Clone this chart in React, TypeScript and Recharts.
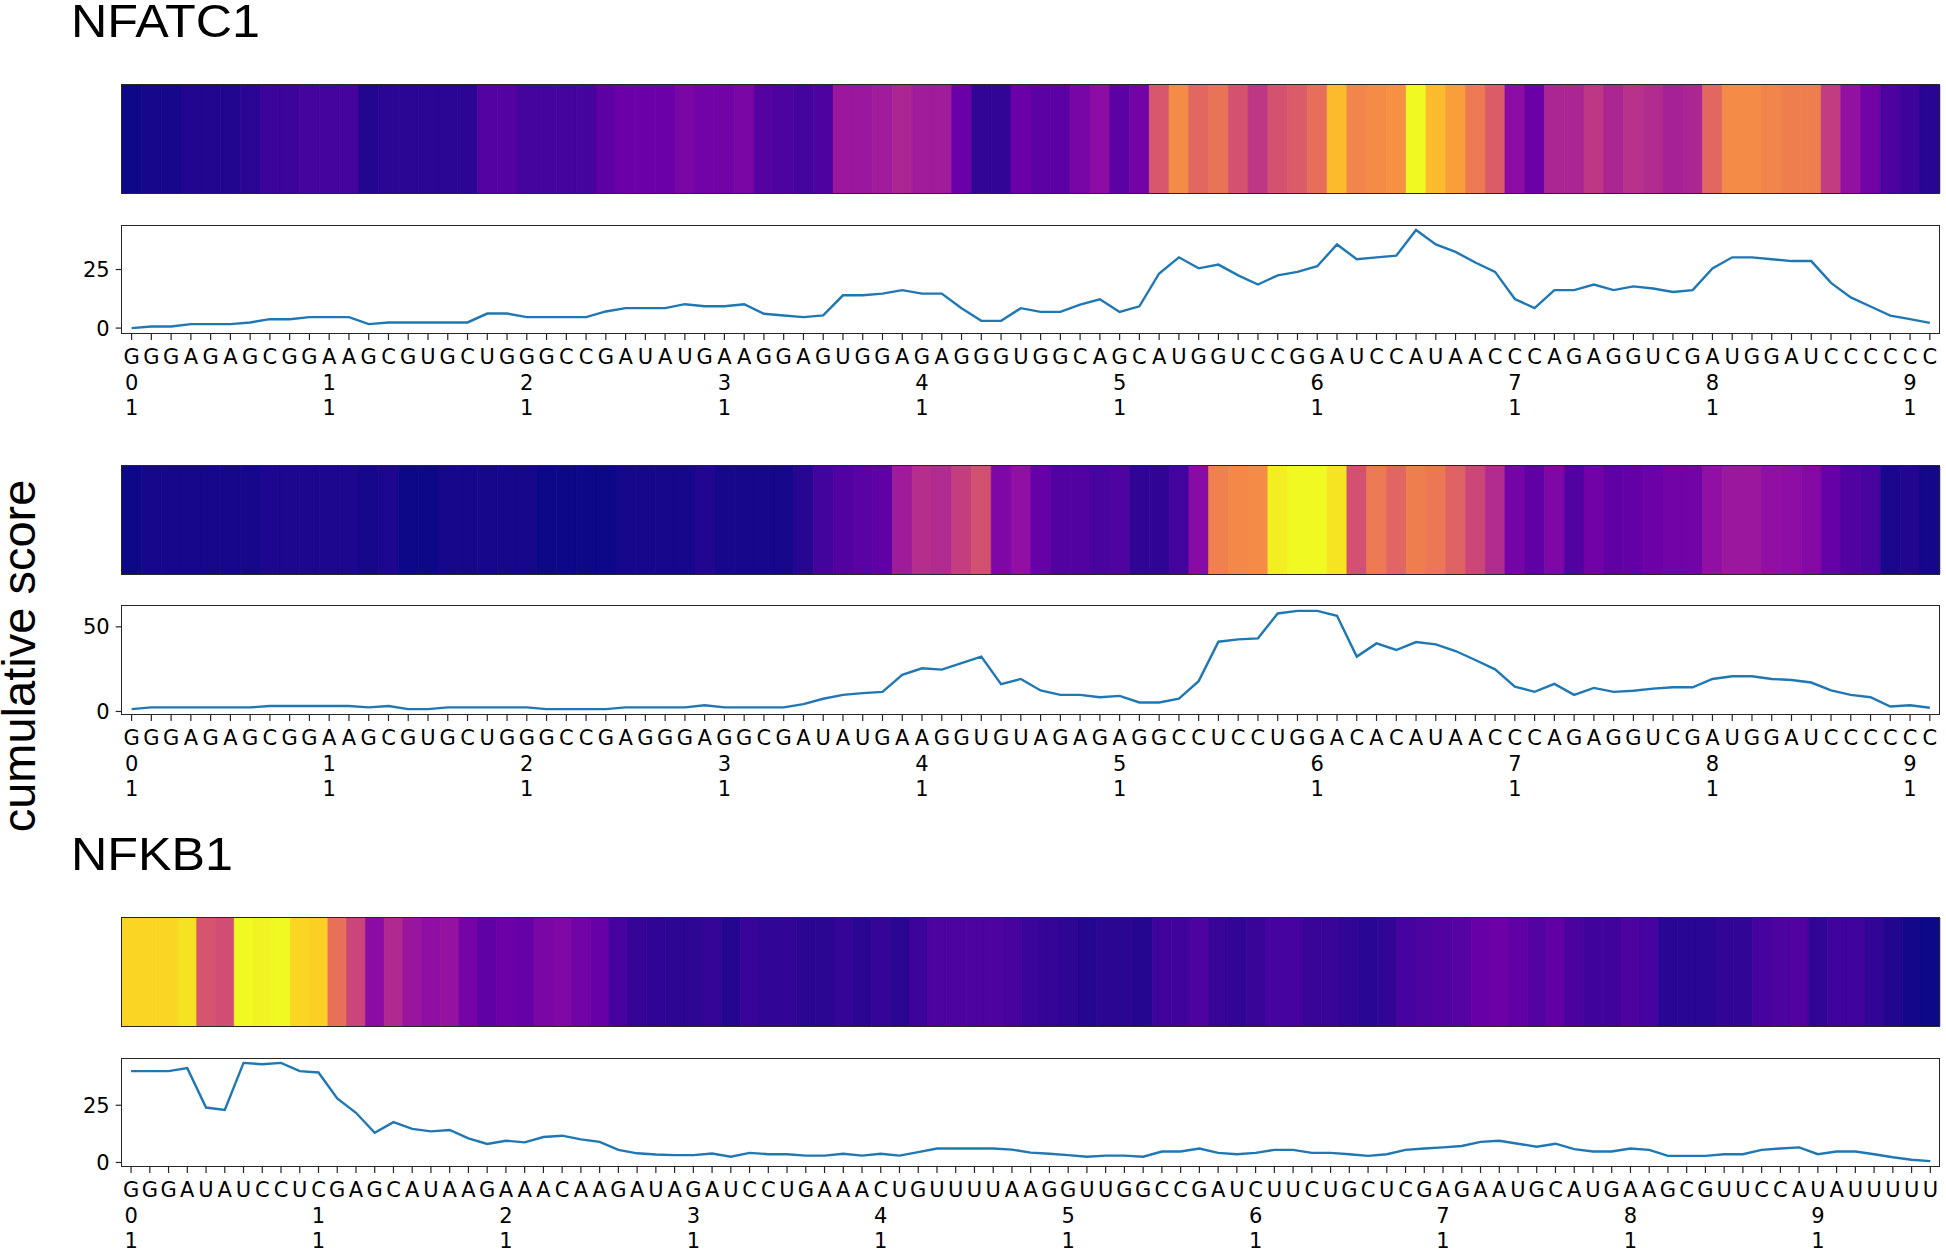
import React from 'react';
import { BarChart, Bar, Cell, LineChart, Line, XAxis, YAxis } from 'recharts';

// sequences (tick labels), one letter per position
const seqNfatc1A =
  'GGGAGAGCGG' + 'AAGCGUGCUG' + 'GGCCGAUAUG' + 'AAGGAGUGGA' + 'GAGGGUGGCA' +
  'GCAUGGUCCG' + 'GAUCCAUAAC' + 'CCAGAGGUCG' + 'AUGGAUCCCC' + 'CC';
const seqNfatc1B =
  'GGGAGAGCGG' + 'AAGCGUGCUG' + 'GGCCGAGGGA' + 'GGCGAUAUGA' + 'AGGUGUAGAG' +
  'AGGCCUCCUG' + 'GACACAUAAC' + 'CCAGAGGUCG' + 'AUGGAUCCCC' + 'CC';
const seqNfkb1 =
  'GGGAUAUCCU' + 'CGAGCAUAAG' + 'AAACAAGAUA' + 'GAUCCUGAAA' + 'CUGUUUUAAG' +
  'GUUGGCCGAU' + 'CUUCUGCUCG' + 'AGAAUGCAUG' + 'AAGCGUUCCA' + 'UAUUUUU';

// cumulative scores
const scoreNfatc1A = [
  0, 0.7, 0.7, 1.7, 1.7, 1.7, 2.4, 3.8, 3.8, 4.7,
  4.7, 4.7, 1.7, 2.4, 2.4, 2.4, 2.4, 2.4, 6.2, 6.2,
  4.7, 4.7, 4.7, 4.7, 7.1, 8.5, 8.5, 8.5, 10.2, 9.3,
  9.3, 10.2, 6.1, 5.4, 4.7, 5.4, 14.0, 14.0, 14.7, 16.2,
  14.7, 14.7, 8.5, 3.1, 3.1, 8.5, 6.9, 6.9, 10.0, 12.3,
  6.9, 9.3, 23.3, 30.2, 25.5, 27.1, 22.5, 18.6, 22.5, 24.0,
  26.4, 35.7, 29.4, 30.2, 30.9, 41.9, 35.7, 32.5, 28.0, 24.0,
  12.4, 8.5, 16.2, 16.2, 18.6, 16.2, 17.8, 16.9, 15.4, 16.2,
  25.5, 30.2, 30.2, 29.4, 28.6, 28.6, 19.3, 13.1, 9.2, 5.3,
  3.8, 2.2,
];
const scoreNfatc1B = [
  1.4, 2.4, 2.4, 2.4, 2.4, 2.4, 2.4, 3.2, 3.2, 3.2,
  3.2, 3.2, 2.4, 3.2, 1.4, 1.4, 2.4, 2.4, 2.4, 2.4,
  2.4, 1.4, 1.4, 1.4, 1.4, 2.4, 2.4, 2.4, 2.4, 3.7,
  2.4, 2.4, 2.4, 2.4, 4.3, 7.5, 9.8, 10.8, 11.6, 21.6,
  25.5, 24.7, 28.6, 32.4, 16.1, 19.2, 12.4, 9.8, 9.8, 8.4,
  9.2, 5.3, 5.3, 7.6, 17.9, 41.2, 42.6, 43.2, 57.9, 59.4,
  59.4, 56.5, 32.4, 40.2, 36.3, 41.0, 39.6, 35.7, 30.4, 24.9,
  14.7, 11.6, 16.3, 9.8, 13.9, 11.6, 12.2, 13.5, 14.3, 14.3,
  19.2, 20.8, 20.8, 19.2, 18.6, 17.1, 12.4, 9.8, 8.4, 2.9,
  3.7, 2.2,
];
const scoreNfkb1 = [
  39.9, 39.9, 39.9, 41.2, 24.0, 23.0, 43.5, 42.9, 43.5, 39.9,
  39.3, 28.0, 21.7, 13.0, 17.6, 14.7, 13.6, 14.2, 10.5, 8.1,
  9.5, 8.8, 11.1, 11.7, 10.1, 9.0, 5.5, 4.0, 3.5, 3.2,
  3.2, 3.9, 2.5, 4.2, 3.6, 3.6, 3.0, 3.0, 3.8, 3.0,
  3.8, 3.0, 4.5, 6.1, 6.1, 6.1, 6.1, 5.6, 4.3, 3.8,
  3.2, 2.5, 3.0, 3.0, 2.5, 4.8, 4.8, 6.1, 4.2, 3.6,
  4.2, 5.5, 5.5, 4.2, 4.2, 3.6, 2.9, 3.6, 5.5, 6.1,
  6.6, 7.2, 9.0, 9.5, 8.2, 6.9, 8.2, 5.8, 4.8, 4.8,
  6.1, 5.5, 2.9, 2.9, 2.9, 3.6, 3.6, 5.5, 6.1, 6.6,
  3.6, 4.8, 4.8, 3.6, 2.3, 1.2, 0.6,
];

const yTicksNfatc1A = [0, 25];
const yTicksNfatc1B = [0, 50];
const yTicksNfkb1 = [0, 25];

const titles = ['NFATC1', 'NFKB1'];
const yLabel = 'cumulative score';

const CHART_W = 1946;
const PLOT_LEFT = 121.7;
const PLOT_W = 1818;
const RIGHT = CHART_W - PLOT_LEFT - PLOT_W;
const HEAT_H = 108.3;
const LINE_H = 108;
const TICK_FONT = '"DejaVu Sans", sans-serif';
const LABEL_FONT = '"Liberation Sans", Arial, sans-serif';

// matplotlib plasma, sampled every 0.1
const plasmaStops = [
  '#0d0887', '#41049d', '#6a00a8', '#8f0da4', '#b12a90', '#cc4778',
  '#e16462', '#f2844b', '#fca636', '#fcce25', '#f0f921',
];
const hex = (h: string) => [1, 3, 5].map((k) => parseInt(h.slice(k, k + 2), 16));
const plasma = (t: number) => {
  const v = Math.max(0, Math.min(1, t)) * 10;
  const i = Math.min(9, Math.floor(v));
  const f = v - i;
  const a = hex(plasmaStops[i]);
  const b = hex(plasmaStops[i + 1]);
  const c = a.map((x, k) => Math.round(x + (b[k] - x) * f));
  return `rgb(${c[0]},${c[1]},${c[2]})`;
};

const Frame = ({ top, height }: { top: number; height: number }) => (
  <div
    style={{
      position: 'absolute',
      left: PLOT_LEFT - 0.7,
      top: top - 0.7,
      width: PLOT_W + 1.4,
      height: height + 1.4,
      border: '1.4px solid #262626',
      boxSizing: 'border-box',
      pointerEvents: 'none',
    }}
  />
);

const SeqTick = (props: any) => {
  const { x, y, payload, seq } = props;
  const i = payload.value as number;
  const num = i % 10 === 1 ? String(i).padStart(2, '0') : null;
  const common = { x, textAnchor: 'middle' as const, fontFamily: TICK_FONT, fontSize: 21, fill: '#000' };
  return (
    <g>
      <text {...common} y={y + 24}>{seq[i - 1]}</text>
      {num && <text {...common} y={y + 49.7}>{num[0]}</text>}
      {num && <text {...common} y={y + 75.4}>{num[1]}</text>}
    </g>
  );
};

type PanelProps = {
  seq: string;
  scores: number[];
  yTicks: number[];
  heatTop: number;
  lineTop: number;
};

const Panel = ({ seq, scores, yTicks, heatTop, lineTop }: PanelProps) => {
  const n = scores.length;
  const lo = Math.min(...scores);
  const hi = Math.max(...scores);
  const pad = (hi - lo) * 0.05;
  const rows = scores.map((s, i) => ({ pos: i + 1, score: s, one: 1 }));
  const positions = rows.map((r) => r.pos);

  return (
    <>
      <div style={{ position: 'absolute', left: 0, top: heatTop }}>
        <BarChart
          width={CHART_W}
          height={HEAT_H + 12}
          data={rows}
          margin={{ top: 0, right: RIGHT, bottom: 0, left: PLOT_LEFT }}
          barCategoryGap={0}
          barGap={0}
        >
          <XAxis
            dataKey="pos"
            type="category"
            interval={0}
            tick={false}
            tickSize={7}
            axisLine={false}
            tickLine={{ stroke: '#262626', strokeWidth: 1.2 }}
            height={12}
          />
          <YAxis hide domain={[0, 1]} />
          <Bar dataKey="one" isAnimationActive={false}>
            {rows.map((r) => {
              const c = plasma((r.score - lo) / (hi - lo));
              return <Cell key={r.pos} fill={c} stroke={c} strokeWidth={0.6} />;
            })}
          </Bar>
        </BarChart>
      </div>
      <Frame top={heatTop} height={HEAT_H} />

      <div style={{ position: 'absolute', left: 0, top: lineTop - 10 }}>
        <LineChart
          width={CHART_W}
          height={10 + LINE_H + 95}
          data={rows}
          margin={{ top: 10, right: RIGHT, bottom: 0, left: 0 }}
        >
          <XAxis
            dataKey="pos"
            type="number"
            domain={[0.5, n + 0.5]}
            ticks={positions}
            interval={0}
            tickSize={7}
            tickMargin={0}
            axisLine={false}
            tickLine={{ stroke: '#262626', strokeWidth: 1.2 }}
            height={95}
            tick={<SeqTick seq={seq} />}
          />
          <YAxis
            width={PLOT_LEFT}
            domain={[lo - pad, hi + pad]}
            ticks={yTicks}
            allowDataOverflow
            tickSize={6}
            tickMargin={6}
            axisLine={false}
            tickLine={{ stroke: '#262626', strokeWidth: 1.2 }}
            tick={{ fontFamily: TICK_FONT, fontSize: 21, fill: '#000' }}
          />
          <Line
            type="linear"
            dataKey="score"
            stroke="#1f77b4"
            strokeWidth={2.4}
            dot={false}
            isAnimationActive={false}
          />
        </LineChart>
      </div>
      <Frame top={lineTop} height={LINE_H} />
    </>
  );
};

export default function App() {
  return (
    <div style={{ position: 'absolute', left: 0, top: 0, width: 1946, height: 1251, background: '#fff' }}>
      <Panel seq={seqNfatc1A} scores={scoreNfatc1A} yTicks={yTicksNfatc1A} heatTop={85} lineTop={225.3} />
      <Panel seq={seqNfatc1B} scores={scoreNfatc1B} yTicks={yTicksNfatc1B} heatTop={465.7} lineTop={606} />
      <Panel seq={seqNfkb1} scores={scoreNfkb1} yTicks={yTicksNfkb1} heatTop={918} lineTop={1058.3} />
      <svg
        width={1946}
        height={1251}
        style={{ position: 'absolute', left: 0, top: 0, pointerEvents: 'none' }}
      >
        <text transform="translate(71,37) scale(1.07,1)" fontFamily={LABEL_FONT} fontSize={47} fill="#000">
          {titles[0]}
        </text>
        <text transform="translate(71,870) scale(1.07,1)" fontFamily={LABEL_FONT} fontSize={47} fill="#000">
          {titles[1]}
        </text>
        <text
          transform="translate(35,656) rotate(-90)"
          textAnchor="middle"
          fontFamily={LABEL_FONT}
          fontSize={47}
          fill="#000"
        >
          {yLabel}
        </text>
      </svg>
    </div>
  );
}
